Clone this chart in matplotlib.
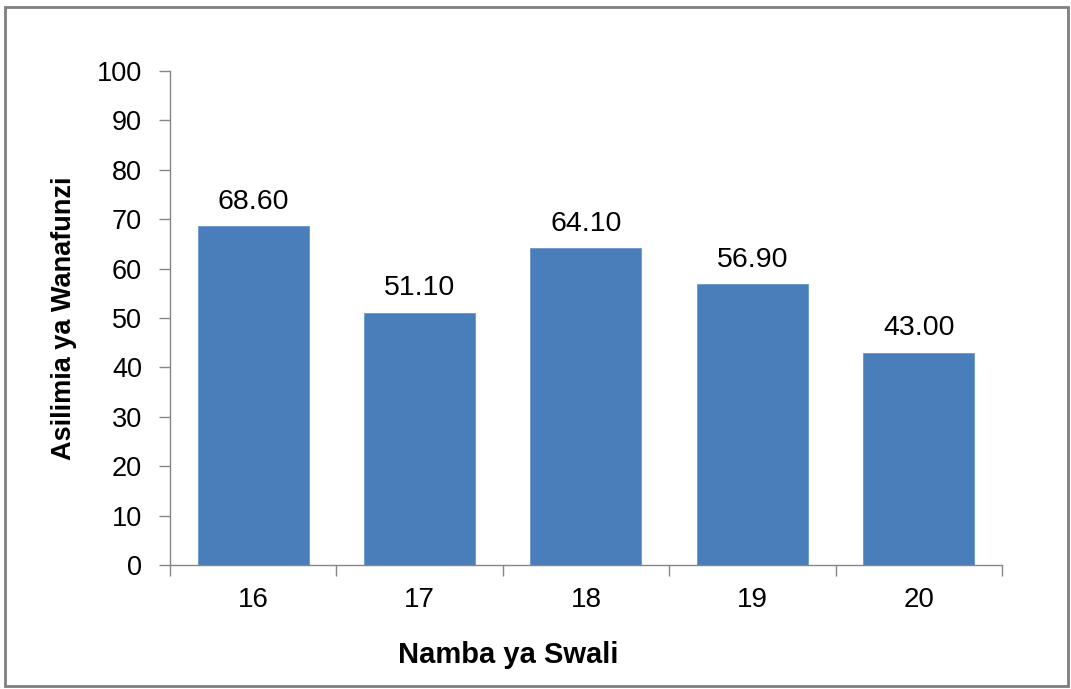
import numpy as np
import matplotlib.pyplot as plt
from matplotlib.patches import Rectangle

# Chart data
questions = ["16", "17", "18", "19", "20"]
percent = [68.60, 51.10, 64.10, 56.90, 43.00]
y_ticks = [0, 10, 20, 30, 40, 50, 60, 70, 80, 90, 100]

plt.rcParams["font.family"] = ["Liberation Sans", "DejaVu Sans"]

bar_color = "#4A7EBB"
axis_color = "#868686"


def plot_chart():
    """Draw the bar chart in an Excel-like style."""
    fig = plt.figure(figsize=(10.71, 6.89), dpi=100)
    ax = fig.add_axes([0.1587, 0.18, 0.7769, 0.717])

    x = np.arange(len(questions))
    bars = ax.bar(x, percent, width=0.667, color=bar_color, edgecolor="#6A96CC", linewidth=0.6, zorder=2)

    for rect, val in zip(bars, percent):
        ax.annotate(
            f"{val:.2f}",
            xy=(rect.get_x() + rect.get_width() / 2, rect.get_height()),
            xytext=(0, 8),
            textcoords="offset points",
            ha="center",
            va="bottom",
            fontsize=20.5,
        )

    ax.set_xlim(-0.5, len(questions) - 0.5)
    ax.set_ylim(0, 100)
    ax.set_yticks(y_ticks)
    ax.tick_params(axis="y", direction="out", length=8, width=1, color=axis_color, labelsize=19.5, pad=12)

    # tick marks between categories, labels at the centres
    ax.set_xticks(np.arange(-0.5, len(questions), 1.0))
    ax.set_xticklabels([])
    ax.set_xticks(x, minor=True)
    ax.set_xticklabels(questions, minor=True)
    ax.tick_params(axis="x", which="major", direction="out", length=8, width=1, color=axis_color)
    ax.tick_params(axis="x", which="minor", length=0, labelsize=20, pad=16)

    for side in ["top", "right"]:
        ax.spines[side].set_visible(False)
    for side in ["left", "bottom"]:
        ax.spines[side].set_color(axis_color)
        ax.spines[side].set_linewidth(1)

    ax.set_ylabel("Asilimia ya Wanafunzi", fontsize=19.5, fontweight="bold", labelpad=14)
    # the x title sits left of the plot centre in the original
    ax.set_xlabel("Namba ya Swali", fontsize=21, fontweight="bold", labelpad=20, x=0.406)

    # outer chart border
    fig.patches.append(
        Rectangle((0.005, 0.004), 0.992, 0.986, transform=fig.transFigure, fill=False, edgecolor="#7F7F7F", linewidth=2)
    )

    fig.savefig("out.png", dpi=100)


if __name__ == "__main__":
    plot_chart()
